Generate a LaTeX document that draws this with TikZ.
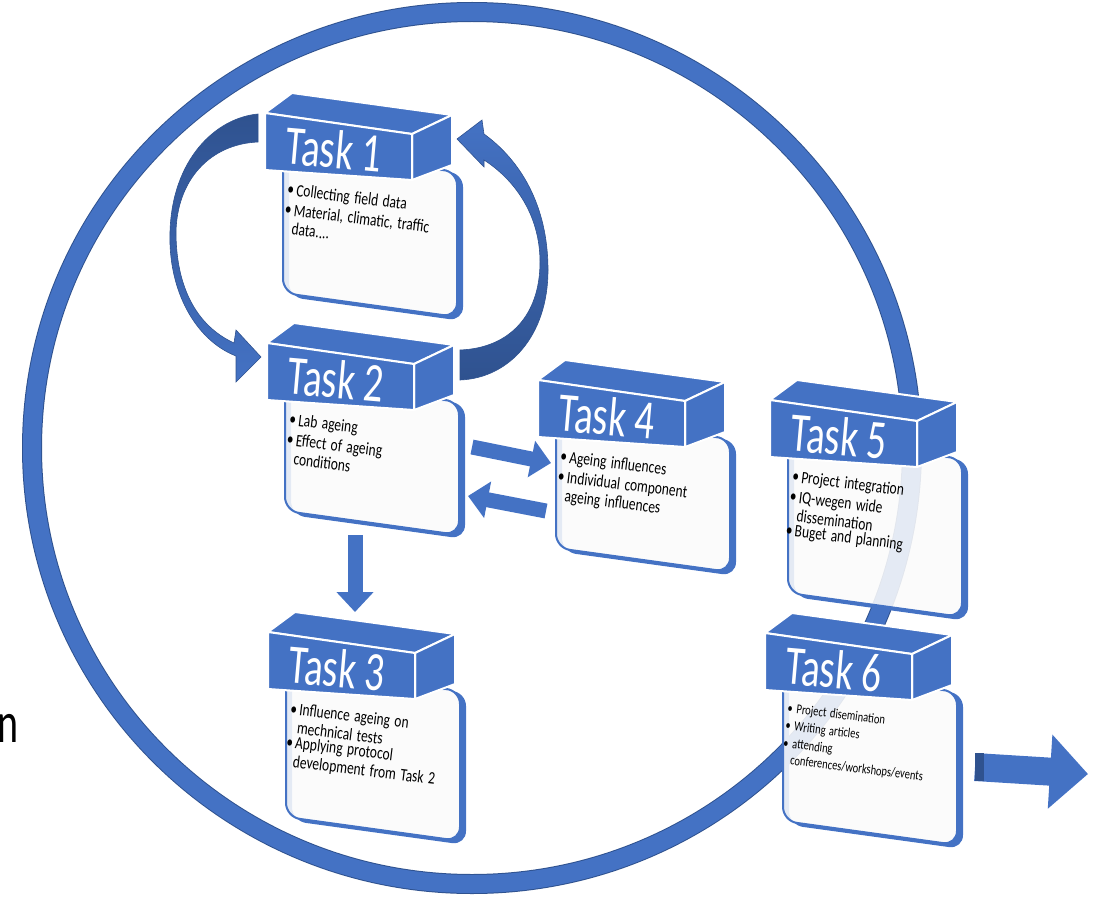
\documentclass[tikz,border=0pt]{standalone}
\usepackage{fontspec}
\setmainfont{Carlito}
\usetikzlibrary{arrows.meta,calc}

\definecolor{taskblue}{HTML}{4472C4}
\definecolor{deepblue}{HTML}{2F528F}
\definecolor{cardwhite}{HTML}{FBFBFB}

% bullet item, continuation lines indented
\newcommand{\tbul}[1]{\par\noindent\makebox[9pt][l]{\textbullet}\parbox[t]{170pt}{\raggedright #1}\par\vspace{1pt}}

% one task: [text style]{name}{origin}{title}{card bottom}{items}
\newcommand{\taskblock}[6][]{%
  \begin{scope}[shift={#3}]
    \fill[cardedge] (24,47) -- (198,60) -- (198,#5+28) -- (24,#5+4) -- cycle
                    (18,45) -- (192,58) -- (192,#5+24) -- (18,#5) -- cycle;
    \filldraw[card] (18,45) -- (192,58) -- (192,#5+24) -- (18,#5) -- cycle;
    \filldraw[face] (0,0) -- (27,-20) -- (187,2) -- (147,21) -- cycle;
    \filldraw[face] (147,21) -- (187,2) -- (187,52) -- (147,67) -- cycle;
    \filldraw[face] (0,0) -- (147,21) -- (147,67) -- (0,57) -- cycle;
    \node[tasktitle] (#2) at (69,36) {#4};
    \node[tasktext,#1] (#2-txt) at (24,63) {#6};
    \coordinate (#2-e) at (195,110);
    \coordinate (#2-w) at (15,100);
    \coordinate (#2-s) at (100,#5+15);
    \coordinate (#2-top) at (90,-20);
  \end{scope}}

\begin{document}
\begin{tikzpicture}[
    x=1pt, y=-1pt,
    face/.style={fill=taskblue, draw=white, line width=2pt, line join=round},
    card/.style={fill=cardwhite, fill opacity=0.88, draw=taskblue, line width=2pt, rounded corners=14pt},
    cardedge/.style={fill=taskblue, even odd rule, rounded corners=14pt},
    tasktitle/.style={text=white, font=\fontsize{39}{40}\selectfont, rotate=-5, yscale=1.42, transform shape},
    tasktext/.style={anchor=north west, align=left, text width=180pt, inner sep=0pt, rotate=-7, yscale=1.3, transform shape, font=\fontsize{13.5}{14.5}\selectfont},
    flat/.style={taskblue, line width=15pt, -{Triangle[width=36pt,length=20pt]}},
    wide/.style={taskblue, line width=28pt, -{Triangle[width=72pt,length=38pt]}},
    ring/.style={draw=taskblue, line width=18pt, preaction={draw=deepblue, line width=20pt}},
    loopfill/.style={draw=deepblue, line width=0.6pt}
]
\useasboundingbox (0,0) rectangle (1102,904);

\draw[ring] (472,448) ellipse [x radius=440pt, y radius=436pt];

\node[anchor=base west, font=\fontsize{40}{40}\selectfont, yscale=1.45, transform shape] (frag) at (-6,742) {n};

% curved arrows between task 1 and task 2
\shadedraw[loopfill, top color=deepblue, bottom color=taskblue]
  (258,114) .. controls (215,118) and (172,160) .. (170,232)
  .. controls (168,290) and (195,340) .. (236,356) -- (236,382) -- (261,357) -- (236,330) -- (234,343)
  .. controls (195,325) and (176,285) .. (176,232)
  .. controls (177,180) and (210,144) .. (258,142) -- cycle;
\shadedraw[loopfill, top color=taskblue, bottom color=deepblue]
  (460,380) .. controls (510,378) and (548,335) .. (548,270)
  .. controls (548,205) and (520,160) .. (484,134) -- (482,120) -- (457,139) -- (484,167) -- (484,160)
  .. controls (515,180) and (540,215) .. (540,262)
  .. controls (540,315) and (510,348) .. (460,350) -- cycle;

\taskblock{t1}{(265,113)}{Task 1}{180}{\tbul{Collecting field data}\tbul{Material, climatic, traffic\\ data....}}
\taskblock{t2}{(267,343)}{Task 2}{168}{\tbul{Lab ageing}\tbul{Effect of ageing\\ conditions}}
\taskblock{t3}{(268,632)}{Task 3}{185}{\tbul{Influence ageing on\\ mechnical tests}\tbul{Applying protocol\\ development from Task 2}}
\taskblock{t4}{(538,380)}{Task 4}{168}{\tbul{Ageing influences}\tbul{Individual component\\ ageing influences}}
\taskblock{t5}{(770,400)}{Task 5}{193}{\tbul{Project integration}\tbul{IQ-wegen wide\\ dissemination}\tbul{Buget and planning}}
\taskblock[font=\fontsize{10.5}{12.5}\selectfont]{t6}{(765,633)}{Task 6}{188}{\tbul{Project disemination}\tbul{Writing articles}\tbul{attending\\ conferences/workshops/events}}

\draw[flat] ($(t2-e)+(10,-6)$) -- ($(t4-w)+(-2,-17)$);
\draw[flat] ($(t4-w)+(-7,31)$) -- ($(t2-e)+(6,43)$);
\draw[flat] ($(t2-s)+(-12,9)$) -- ($(t3-top)+(-3,0)$);

\coordinate (exit) at (1088,774);
\draw[wide] ($(t6-e)+(15,24)$) -- (exit);
\fill[deepblue] ($(t6-e)+(15,10)$) rectangle ($(t6-e)+(24,38)$);

\end{tikzpicture}
\end{document}
